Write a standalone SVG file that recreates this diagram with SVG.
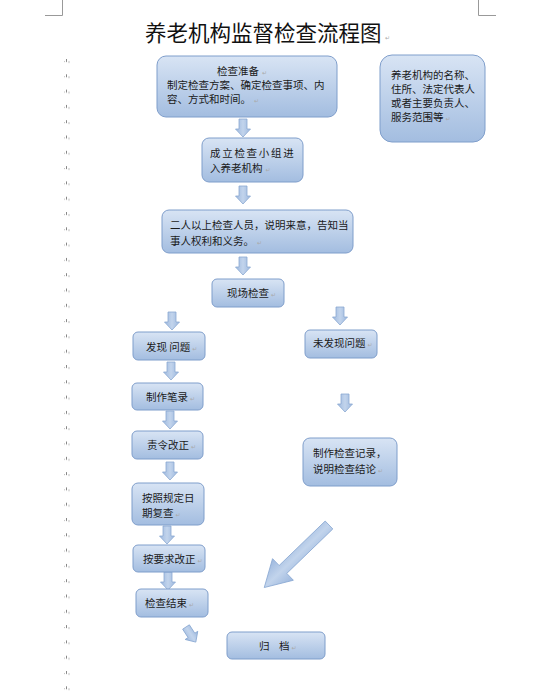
<svg xmlns="http://www.w3.org/2000/svg" width="556" height="700" viewBox="0 0 556 700">
<defs>
<linearGradient id="bg" x1="0" y1="0" x2="0" y2="1">
<stop offset="0" stop-color="#d8e4f4"/>
<stop offset="1" stop-color="#a3bde0"/>
</linearGradient>
<linearGradient id="ag" x1="0" y1="0" x2="1" y2="0">
<stop offset="0" stop-color="#9db8de"/>
<stop offset="0.5" stop-color="#c2d4ec"/>
<stop offset="1" stop-color="#9db8de"/>
</linearGradient>
<path id="da" d="M-4,0 H4 V10 H7.5 L0,18 L-7.5,10 H-4 Z"/>
<pattern id="pm" x="0" y="59" width="8" height="15.3" patternUnits="userSpaceOnUse">
<rect x="2" y="0" width="1" height="3" fill="#888"/>
<rect x="0" y="2" width="1" height="1" fill="#bbb"/>
<rect x="4" y="2" width="2" height="2" fill="#ddd"/>
</pattern>
</defs>
<style>
.box{fill:url(#bg);stroke:#7f9ecb;stroke-width:1}
.arr{fill:url(#ag);stroke:#8aa8d2;stroke-width:0.8}
.t{font-family:"Noto Sans CJK SC","Noto Sans",sans-serif;font-size:10.5px;fill:#1a1a1a}
.pm{font-family:"DejaVu Sans",sans-serif;font-size:6px;fill:#aaa}
.title{font-family:"Noto Sans CJK SC","Noto Sans",sans-serif;font-size:21.5px;fill:#111}
.crop{stroke:#999;stroke-width:1;fill:none}
</style>
<rect width="556" height="700" fill="#ffffff"/>
<g id="page-marks">
<path class="crop" d="M62.5,0 V15.5 H45 M478.5,0 V15.5 H496"/>
<rect x="62" y="59" width="8" height="641" fill="url(#pm)"/>
</g>
<g id="title">
<text class="title" x="145" y="41">养老机构监督检查流程图</text>
<text class="pm" x="385" y="40" font-size="8">↵</text>
</g>
<g id="connectors">
<use href="#da" class="arr" transform="translate(243,119)"/>
<use href="#da" class="arr" transform="translate(243,186)"/>
<use href="#da" class="arr" transform="translate(243,257)"/>
<use href="#da" class="arr" transform="translate(172,312)"/>
<use href="#da" class="arr" transform="translate(340,307)"/>
<use href="#da" class="arr" transform="translate(171,362)"/>
<use href="#da" class="arr" transform="translate(170,411)"/>
<use href="#da" class="arr" transform="translate(170,462)"/>
<use href="#da" class="arr" transform="translate(345,394)"/>
<use href="#da" class="arr" transform="translate(167,526)"/>
<use href="#da" class="arr" transform="translate(168,572)"/>
<use href="#da" class="arr" transform="translate(186,627) rotate(-33)"/>
<path class="arr" d="M-5.5,0 H5.5 V64 H15 L0,90 L-15,64 H-5.5 Z" transform="translate(329,525) rotate(46)"/>
</g>
<g id="n-prepare">
<rect class="box" x="157" y="56" width="180" height="61" rx="9"/>
<text class="t" x="217" y="75">检查准备<tspan class="pm" dx="3">↵</tspan></text>
<text class="t" x="167" y="89" font-size="10.7">制定检查方案、确定检查事项、内</text>
<text class="t" x="167" y="103" font-size="10.7">容、方式和时间。<tspan class="pm" dx="3">↵</tspan></text>
</g>
<g id="n-info">
<rect class="box" x="380" y="55" width="105" height="87" rx="12"/>
<text class="t" x="391" y="79" font-size="10">养老机构的名称、</text>
<text class="t" x="391" y="93" font-size="10">住所、法定代表人</text>
<text class="t" x="391" y="107" font-size="10">或者主要负责人、</text>
<text class="t" x="391" y="121" font-size="10">服务范围等<tspan class="pm" dx="2">↵</tspan></text>
</g>
<g id="n-team">
<rect class="box" x="202" y="138" width="101" height="44" rx="7"/>
<text class="t" x="210" y="157" letter-spacing="1.7">成立检查小组进</text>
<text class="t" x="210" y="172">入养老机构<tspan class="pm" dx="3">↵</tspan></text>
</g>
<g id="n-explain">
<rect class="box" x="162" y="210" width="191" height="43" rx="7"/>
<text class="t" x="170" y="229" font-size="10.3">二人以上检查人员，说明来意，告知当</text>
<text class="t" x="170" y="245" font-size="10.3">事人权利和义务。<tspan class="pm" dx="3">↵</tspan></text>
</g>
<g id="n-onsite">
<rect class="box" x="212" y="279" width="72" height="28" rx="5"/>
<text class="t" x="227" y="297">现场检查<tspan class="pm" dx="2">↵</tspan></text>
</g>
<g id="n-found">
<rect class="box" x="133" y="332" width="72" height="28" rx="5"/>
<text class="t" x="146" y="351">发现 问题<tspan class="pm" dx="2">↵</tspan></text>
</g>
<g id="n-notfound">
<rect class="box" x="305" y="330" width="72" height="28" rx="5"/>
<text class="t" x="313" y="347">未发现问题<tspan class="pm" dx="2">↵</tspan></text>
</g>
<g id="n-record">
<rect class="box" x="132" y="383" width="71" height="27" rx="5"/>
<text class="t" x="146" y="401">制作笔录<tspan class="pm" dx="2">↵</tspan></text>
</g>
<g id="n-order">
<rect class="box" x="132" y="431" width="71" height="28" rx="5"/>
<text class="t" x="147" y="449">责令改正<tspan class="pm" dx="2">↵</tspan></text>
</g>
<g id="n-recheck">
<rect class="box" x="132" y="483" width="72" height="42" rx="6"/>
<text class="t" x="142" y="502">按照规定日</text>
<text class="t" x="142" y="517">期复查<tspan class="pm" dx="2">↵</tspan></text>
</g>
<g id="n-conclusion">
<rect class="box" x="303" y="438" width="94" height="48" rx="7"/>
<text class="t" x="313" y="457">制作检查记录，</text>
<text class="t" x="313" y="473">说明检查结论<tspan class="pm" dx="2">↵</tspan></text>
</g>
<g id="n-correct">
<rect class="box" x="133" y="545" width="72" height="27" rx="5"/>
<text class="t" x="143" y="563">按要求改正<tspan class="pm" dx="2">↵</tspan></text>
</g>
<g id="n-end">
<rect class="box" x="136" y="589" width="72" height="28" rx="5"/>
<text class="t" x="145" y="607">检查结束<tspan class="pm" dx="2">↵</tspan></text>
</g>
<g id="n-archive">
<rect class="box" x="227" y="632" width="98" height="27" rx="5"/>
<text class="t" x="259" y="650">归</text>
<text class="t" x="279" y="650">档<tspan class="pm" dx="2">↵</tspan></text>
</g>
</svg>
